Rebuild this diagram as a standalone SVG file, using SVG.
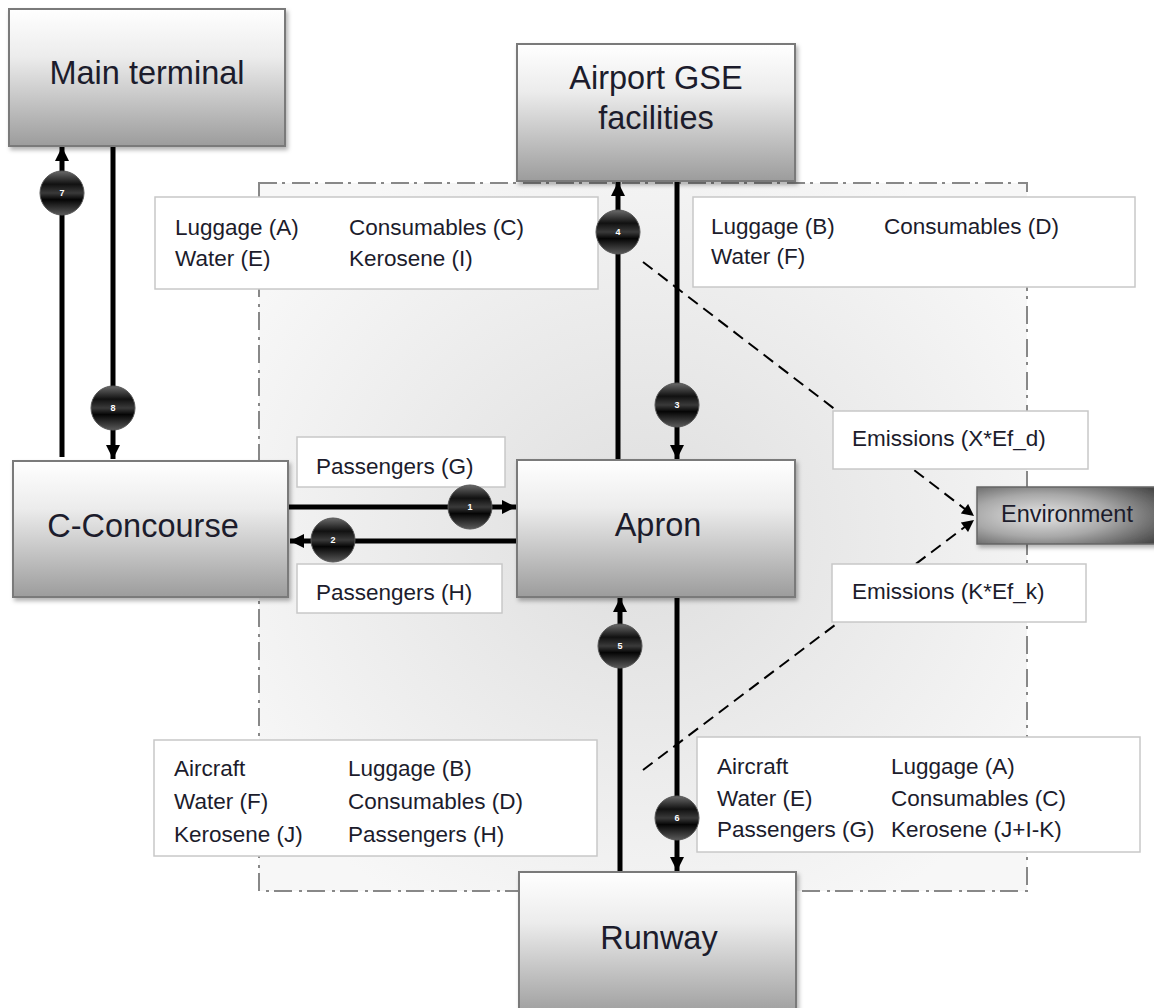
<svg xmlns="http://www.w3.org/2000/svg" width="1154" height="1008" viewBox="0 0 1154 1008">
<style>
.node{stroke:#7a7a7a;stroke-width:2;fill:url(#nodeGrad);filter:url(#shadow)}
.ntext{font-family:"Liberation Sans",Arial,sans-serif;font-size:32.5px;fill:#1c1c2c;text-anchor:middle}
.lbox{fill:#fff;stroke:#c8c8c8;stroke-width:1.5}
.ltext{font-family:"Liberation Sans",Arial,sans-serif;font-size:22.5px;fill:#1c1c2c}
.flow{stroke:#000;stroke-width:5;fill:none;marker-end:url(#arr)}
.dash{stroke:#000;stroke-width:2;fill:none;stroke-dasharray:12 7;marker-end:url(#arrs)}
.badge{fill:url(#ballGrad);stroke:#555;stroke-width:1}
.num{font-family:"Liberation Sans",Arial,sans-serif;font-size:9px;font-weight:bold;fill:#fff;text-anchor:middle}
</style>
<defs>
<linearGradient id="nodeGrad" x1="0" y1="0" x2="0" y2="1">
<stop offset="0" stop-color="#ffffff"/>
<stop offset="0.35" stop-color="#ececec"/>
<stop offset="1" stop-color="#9c9c9c"/>
</linearGradient>
<radialGradient id="envGrad" cx="0.35" cy="0.5" r="0.75">
<stop offset="0" stop-color="#e6e6e6"/>
<stop offset="0.5" stop-color="#a8a8a8"/>
<stop offset="1" stop-color="#4a4a4a"/>
</radialGradient>
<radialGradient id="bgGrad" cx="0.5" cy="0.5" r="0.6">
<stop offset="0" stop-color="#dedede"/>
<stop offset="1" stop-color="#f7f7f7"/>
</radialGradient>
<linearGradient id="ballGrad" x1="0" y1="0" x2="0" y2="1">
<stop offset="0" stop-color="#6a6a6a"/>
<stop offset="0.3" stop-color="#111"/>
<stop offset="0.5" stop-color="#3a3a3a"/>
<stop offset="0.65" stop-color="#050505"/>
<stop offset="1" stop-color="#5a5a5a"/>
</linearGradient>
<filter id="shadow" x="-10%" y="-10%" width="125%" height="130%">
<feDropShadow dx="2" dy="3" stdDeviation="2" flood-color="#000" flood-opacity="0.3"/>
</filter>
<marker id="arr" viewBox="0 0 10 10" refX="10" refY="5" markerUnits="userSpaceOnUse" markerWidth="15" markerHeight="14" orient="auto">
<path d="M0,0 L10,5 L0,10 z" fill="#000"/>
</marker>
<marker id="arrs" viewBox="0 0 10 10" refX="10" refY="5" markerUnits="userSpaceOnUse" markerWidth="13" markerHeight="12" orient="auto">
<path d="M0,0 L10,5 L0,10 z" fill="#000"/>
</marker>
</defs>
<rect width="1154" height="1008" fill="#fff"/>
<g id="boundary">
<rect x="259" y="183" width="768" height="708" fill="url(#bgGrad)" stroke="#888" stroke-width="2" stroke-dasharray="18 5 3 7"/>
</g>
<g id="connectors">
<line class="dash" x1="643" y1="262" x2="974" y2="516"/>
<line class="dash" x1="643" y1="770" x2="974" y2="520"/>
<line class="flow" x1="62" y1="457" x2="62" y2="147"/>
<line class="flow" x1="113" y1="147" x2="113" y2="459"/>
<line class="flow" x1="618" y1="460" x2="618" y2="182"/>
<line class="flow" x1="677" y1="182" x2="677" y2="459"/>
<line class="flow" x1="289" y1="507" x2="516" y2="507"/>
<line class="flow" x1="517" y1="541" x2="290" y2="541"/>
<line class="flow" x1="620" y1="871" x2="620" y2="598"/>
<line class="flow" x1="677" y1="598" x2="677" y2="871"/>
</g>
<g id="label-top-left">
<rect class="lbox" x="155" y="197" width="443" height="92"/>
<text class="ltext" x="175" y="235">Luggage (A)</text>
<text class="ltext" x="349" y="235">Consumables (C)</text>
<text class="ltext" x="175" y="266">Water (E)</text>
<text class="ltext" x="349" y="266">Kerosene (I)</text>
</g>
<g id="label-top-right">
<rect class="lbox" x="693" y="197" width="442" height="90"/>
<text class="ltext" x="711" y="234">Luggage (B)</text>
<text class="ltext" x="884" y="234">Consumables (D)</text>
<text class="ltext" x="711" y="264">Water (F)</text>
</g>
<g id="label-passengers-g">
<rect class="lbox" x="297" y="437" width="208" height="50"/>
<text class="ltext" x="316" y="474">Passengers (G)</text>
</g>
<g id="label-passengers-h">
<rect class="lbox" x="297" y="564" width="205" height="49"/>
<text class="ltext" x="316" y="600">Passengers (H)</text>
</g>
<g id="label-emissions-x">
<rect class="lbox" x="833" y="411" width="255" height="58"/>
<text class="ltext" x="852" y="446">Emissions (X*Ef_d)</text>
</g>
<g id="label-emissions-k">
<rect class="lbox" x="832" y="564" width="254" height="58"/>
<text class="ltext" x="852" y="599">Emissions (K*Ef_k)</text>
</g>
<g id="label-bottom-left">
<rect class="lbox" x="154" y="740" width="443" height="116"/>
<text class="ltext" x="174" y="776">Aircraft</text>
<text class="ltext" x="348" y="776">Luggage (B)</text>
<text class="ltext" x="174" y="809">Water (F)</text>
<text class="ltext" x="348" y="809">Consumables (D)</text>
<text class="ltext" x="174" y="842">Kerosene (J)</text>
<text class="ltext" x="348" y="842">Passengers (H)</text>
</g>
<g id="label-bottom-right">
<rect class="lbox" x="697" y="737" width="443" height="115"/>
<text class="ltext" x="717" y="774">Aircraft</text>
<text class="ltext" x="891" y="774">Luggage (A)</text>
<text class="ltext" x="717" y="806">Water (E)</text>
<text class="ltext" x="891" y="806">Consumables (C)</text>
<text class="ltext" x="717" y="837">Passengers (G)</text>
<text class="ltext" x="891" y="837">Kerosene (J+I-K)</text>
</g>
<g id="badges">
<circle class="badge" cx="62" cy="193" r="22"/><text class="num" x="62" y="196">7</text>
<circle class="badge" cx="113" cy="408" r="22"/><text class="num" x="113" y="411">8</text>
<circle class="badge" cx="618" cy="232" r="22"/><text class="num" x="618" y="235">4</text>
<circle class="badge" cx="677" cy="405" r="22"/><text class="num" x="677" y="408">3</text>
<circle class="badge" cx="470" cy="507" r="22"/><text class="num" x="470" y="510">1</text>
<circle class="badge" cx="333" cy="540" r="22"/><text class="num" x="333" y="543">2</text>
<circle class="badge" cx="620" cy="646" r="22"/><text class="num" x="620" y="649">5</text>
<circle class="badge" cx="677" cy="818" r="22"/><text class="num" x="677" y="821">6</text>
</g>
<g id="main-terminal">
<rect class="node" x="9" y="9" width="276" height="137"/>
<text class="ntext" x="147" y="84">Main terminal</text>
</g>
<g id="airport-gse">
<rect class="node" x="517" y="44" width="278" height="137"/>
<text class="ntext" x="656" y="89">Airport GSE</text>
<text class="ntext" x="656" y="129">facilities</text>
</g>
<g id="c-concourse">
<rect class="node" x="13" y="461" width="275" height="136"/>
<text class="ntext" x="143" y="537">C-Concourse</text>
</g>
<g id="apron">
<rect class="node" x="517" y="460" width="278" height="137"/>
<text class="ntext" x="658" y="536">Apron</text>
</g>
<g id="runway">
<rect class="node" x="519" y="872" width="277" height="145"/>
<text class="ntext" x="659" y="949">Runway</text>
</g>
<g id="environment">
<rect x="977" y="487" width="185" height="57" fill="url(#envGrad)" stroke="#666" stroke-width="1.5" filter="url(#shadow)"/>
<text x="1067" y="522" font-family="'Liberation Sans',Arial,sans-serif" font-size="23.5" fill="#1c1c2c" text-anchor="middle">Environment</text>
</g>
</svg>
